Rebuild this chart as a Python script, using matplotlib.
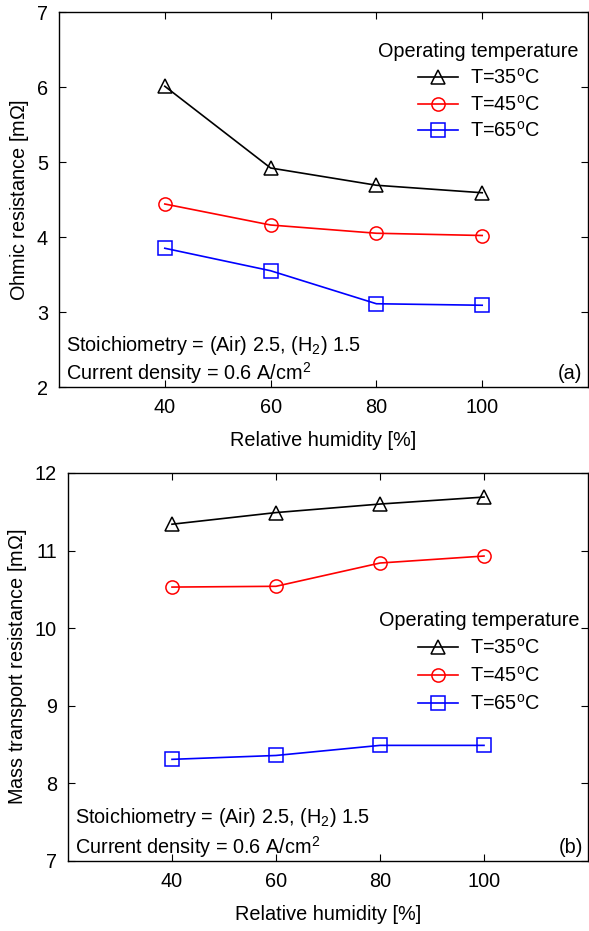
import matplotlib.pyplot as plt
import numpy as np

plt.rcParams['font.family'] = ['Liberation Sans', 'DejaVu Sans']
plt.rcParams['mathtext.fontset'] = 'custom'
plt.rcParams['mathtext.rm'] = 'Liberation Sans'
plt.rcParams['mathtext.it'] = 'Liberation Sans'

rh = [40, 60, 80, 100]
labels = ['T=35$^\\mathrm{o}$C', 'T=45$^\\mathrm{o}$C', 'T=65$^\\mathrm{o}$C']

ohmic_35 = [6.01, 4.92, 4.69, 4.59]
ohmic_45 = [4.44, 4.16, 4.05, 4.02]
ohmic_65 = [3.85, 3.55, 3.11, 3.09]

mass_35 = [11.34, 11.49, 11.60, 11.69]
mass_45 = [10.53, 10.54, 10.84, 10.93]
mass_65 = [8.31, 8.36, 8.49, 8.49]

colors = ['black', 'red', 'blue']
markers = ['^', 'o', 's']

fs = 14.3

fig = plt.figure(figsize=(5.89, 9.31), dpi=100)
W, H = 589, 931
ax1 = fig.add_axes([59 / W, 1 - 387 / H, (588 - 59) / W, (387 - 12) / H])
ax2 = fig.add_axes([68 / W, 1 - 861 / H, (588 - 68) / W, (861 - 473) / H])


def draw(ax, series, ylim, ylabel, tag, ys_text, legend_anchor, lspace):
    for ys, c, m, lb in zip(series, colors, markers, labels):
        ax.plot(rh, ys, color=c, marker=m, markersize=9.5, markerfacecolor='none',
                markeredgecolor=c, markeredgewidth=1.1, linewidth=1.2, label=lb)
    ax.set_xlim(20, 120)
    ax.set_ylim(*ylim)
    ax.set_xticks(rh)
    ax.set_yticks(np.arange(ylim[0], ylim[1] + 1, 1))
    ax.tick_params(direction='in', top=True, right=True, labelsize=fs, length=5, pad=8)
    ax.set_xlabel('Relative humidity [%]', fontsize=fs, labelpad=10)
    ax.set_ylabel(ylabel, fontsize=fs, labelpad=4)
    ax.text(0.013, ys_text[0], 'Stoichiometry = (Air) 2.5, (H$_2$) 1.5', transform=ax.transAxes,
            fontsize=fs, ha='left', va='center')
    ax.text(0.013, ys_text[1], 'Current density = 0.6 A/cm$^2$', transform=ax.transAxes,
            fontsize=fs, ha='left', va='center')
    ax.text(0.99, ys_text[1], tag, transform=ax.transAxes, fontsize=fs, ha='right', va='center')
    ax.legend(title='Operating temperature', frameon=False, fontsize=fs,
              title_fontsize=fs, handlelength=2.0, handletextpad=0.6,
              labelspacing=lspace, borderaxespad=0.0, loc='upper right',
              bbox_to_anchor=legend_anchor)
    for sp in ax.spines.values():
        sp.set_linewidth(1.0)


draw(ax1, [ohmic_35, ohmic_45, ohmic_65], (2, 7), 'Ohmic resistance [m$\\Omega$]', '(a)',
     (0.11, 0.037), (0.998, 0.94), 0.33)
draw(ax2, [mass_35, mass_45, mass_65], (7, 12), 'Mass transport resistance [m$\\Omega$]', '(b)',
     (0.113, 0.036), (0.998, 0.665), 0.4)

fig.savefig('out.png', dpi=100)
